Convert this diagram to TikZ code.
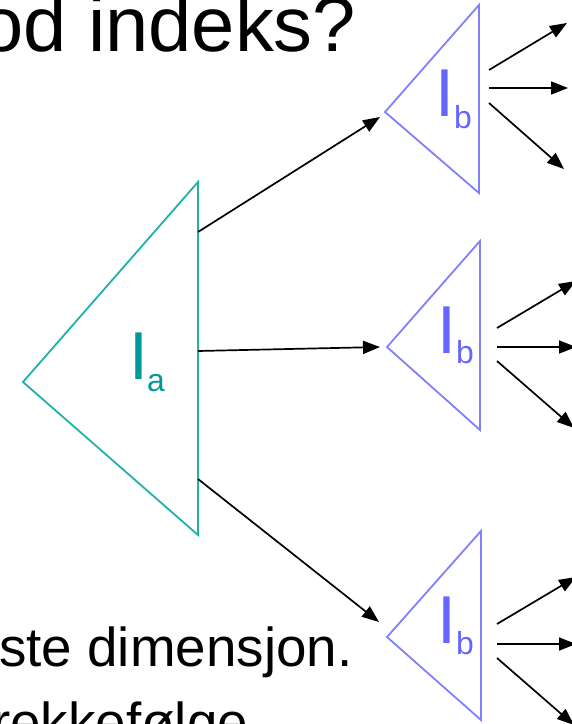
\documentclass[tikz,border=0pt]{standalone}
\usepackage{fontspec}
\setmainfont{Liberation Sans}
\usetikzlibrary{arrows.meta}

\definecolor{tealline}{RGB}{32,178,170}
\definecolor{tealtext}{RGB}{0,153,153}
\definecolor{blueline}{RGB}{128,128,255}
\definecolor{bluetext}{RGB}{102,102,255}

\tikzset{
    tri a/.style={draw=tealline, line width=1.8bp},
    tri b/.style={draw=blueline, line width=1.8bp},
    link/.style={-{Triangle[length=17bp,width=13bp]}, line width=1.7bp},
    heading/.style={anchor=base west, inner sep=0, font=\fontsize{78}{90}\selectfont},
    bodytext/.style={anchor=base west, inner sep=0, font=\fontsize{55}{64}\selectfont},
    big I/.style={anchor=base, inner sep=0, font=\fontsize{68}{68}\selectfont},
    sub/.style={anchor=base west, inner sep=0, font=\fontsize{32}{32}\selectfont},
}

\begin{document}
\begin{tikzpicture}[x=1bp, y=-1bp]
    % Frame of the slide cut-out
    \useasboundingbox (0,0) rectangle (572,724);
    \clip (0,0) rectangle (572,724);

    % Slide text, cut at the edges
    \node[heading] (title) at (-20,52) {od indeks?};
    \node[bodytext] (line1) at (-1,666) {ste dimensjon.};
    \node[bodytext] (line2) at (-8,741) {rekkefølge};

    % Index on the first attribute
    \draw[tri a] (23,382) -- (198,182) -- (198,535) -- cycle;
    \node[big I, text=tealtext] (Ia) at (138.5,379) {I};
    \node[sub, text=tealtext] (Ia sub) at (147,391) {a};

    % Indexes on the second attribute
    \draw[tri b] (385,112) -- (479,5) -- (479,193) -- cycle;
    \draw[tri b] (387,347) -- (480,241) -- (480,430) -- cycle;
    \draw[tri b] (387,637) -- (481,531) -- (481,720) -- cycle;
    \node[big I, text=bluetext] (Ib1) at (445,117) {I};
    \node[sub, text=bluetext] (Ib1 sub) at (454,129) {b};
    \node[big I, text=bluetext] (Ib2) at (446.5,353) {I};
    \node[sub, text=bluetext] (Ib2 sub) at (456,363) {b};
    \node[big I, text=bluetext] (Ib3) at (446.5,643) {I};
    \node[sub, text=bluetext] (Ib3 sub) at (456,654) {b};

    % Arrow ends
    \coordinate (a out1) at (198,232);
    \coordinate (a out2) at (198,351);
    \coordinate (a out3) at (198,479);
    \coordinate (b in1) at (380,117);
    \coordinate (b in2) at (380,347);
    \coordinate (b in3) at (379,622);

    % Arrows from the first index
    \draw[link] (a out1) -- (b in1);
    \draw[link] (a out2) -- (b in2);
    \draw[link] (a out3) -- (b in3);

    % Arrows out of the second indexes
    \draw[link] (489,70) coordinate (b1 o1) -- (567,23) coordinate (t1 a);
    \draw[link] (489,88) coordinate (b1 o2) -- (568,88) coordinate (t1 b);
    \draw[link] (489,103) coordinate (b1 o3) -- (564,169) coordinate (t1 c);

    \draw[link] (497,328) coordinate (b2 o1) -- (576,281) coordinate (t2 a);
    \draw[link] (497,347) coordinate (b2 o2) -- (576,347) coordinate (t2 b);
    \draw[link] (497,361) coordinate (b2 o3) -- (574,428) coordinate (t2 c);

    \draw[link] (497,624) coordinate (b3 o1) -- (576,577) coordinate (t3 a);
    \draw[link] (497,644) coordinate (b3 o2) -- (576,644) coordinate (t3 b);
    \draw[link] (497,658) coordinate (b3 o3) -- (574,725) coordinate (t3 c);
\end{tikzpicture}
\end{document}
